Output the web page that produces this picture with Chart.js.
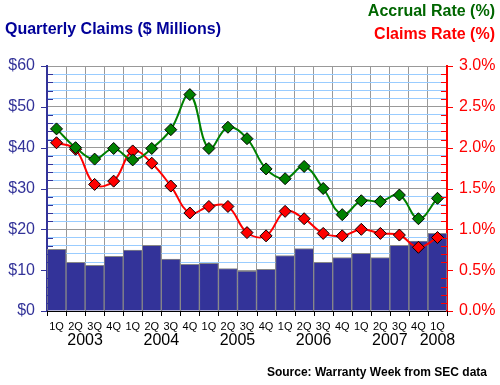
<!DOCTYPE html>
<html>
<head>
<meta charset="utf-8">
<script src="https://cdn.jsdelivr.net/npm/chart.js@4"></script>
<style>
  html, body { margin: 0; padding: 0; background: #fff; }
  #wrap { position: relative; width: 500px; height: 385px; }
</style>
</head>
<body>
<div id="wrap"><canvas id="claimsChart" width="500" height="385"></canvas></div>
<script>
var quarters = ['1Q','2Q','3Q','4Q','1Q','2Q','3Q','4Q','1Q','2Q','3Q','4Q','1Q','2Q','3Q','4Q','1Q','2Q','3Q','4Q','1Q'];
var years = ['2003','2004','2005','2006','2007','2008'];
var claims = [15.1, 11.9, 11.2, 13.4, 14.9, 16.1, 12.7, 11.4, 11.7, 10.4, 9.8, 10.2, 13.6, 15.3, 11.9, 13.1, 14.1, 13.1, 16.1, 17.1, 19.0];
var accrualRate = [2.23, 2.00, 1.86, 1.99, 1.85, 1.99, 2.22, 2.65, 1.99, 2.25, 2.11, 1.74, 1.62, 1.77, 1.50, 1.18, 1.35, 1.34, 1.42, 1.13, 1.38];
var claimsRate = [2.06, 1.98, 1.55, 1.59, 1.96, 1.81, 1.53, 1.20, 1.28, 1.28, 0.96, 0.92, 1.22, 1.13, 0.95, 0.92, 1.00, 0.95, 0.93, 0.78, 0.90];

var FONT = 'Arial, "Liberation Sans", sans-serif';

// axis tick marks, year row and header texts
var decorPlugin = {
  id: 'decor',
  afterDraw: function(chart) {
    var c = chart.ctx;
    var area = chart.chartArea;
    var yl = chart.scales.y;
    var yr = chart.scales.y1;
    var x = chart.scales.x;
    c.save();
    c.lineWidth = 1;

    // left axis ticks
    c.strokeStyle = '#333399';
    for (var v = 0; v <= 60; v += 2) {
      var py = Math.round(yl.getPixelForValue(v)) + 0.5;
      c.beginPath();
      if (v % 10 === 0) { c.moveTo(area.left - 6, py); c.lineTo(area.left, py); }
      else { c.moveTo(area.left, py); c.lineTo(area.left + 6, py); }
      c.stroke();
    }
    // right axis ticks
    c.strokeStyle = '#ff0000';
    for (var r = 0; r <= 30; r += 1) {
      var ry = Math.round(yr.getPixelForValue(r / 10)) + 0.5;
      c.beginPath();
      if (r % 5 === 0) { c.moveTo(area.right, ry); c.lineTo(area.right + 6, ry); }
      else { c.moveTo(area.right - 6, ry); c.lineTo(area.right, ry); }
      c.stroke();
    }
    // bottom ticks at category boundaries
    c.strokeStyle = '#000';
    var step = (area.right - area.left) / quarters.length;
    for (var i = 0; i <= quarters.length; i++) {
      var px = Math.round(area.left + step * i) + 0.5;
      c.beginPath();
      c.moveTo(px, area.bottom);
      c.lineTo(px, area.bottom + 5);
      c.stroke();
    }

    // year labels
    c.fillStyle = '#000';
    c.font = '16px ' + FONT;
    c.textAlign = 'center';
    c.textBaseline = 'middle';
    years.forEach(function(yr, k) {
      var first = k * 4;
      var last = Math.min(first + 3, quarters.length - 1);
      var cx = (x.getPixelForValue(first) + x.getPixelForValue(last)) / 2;
      c.fillText(yr, cx, 341);
    });

    // header
    c.font = 'bold 16px ' + FONT;
    c.textAlign = 'left';
    c.fillStyle = '#000099';
    c.fillText('Quarterly Claims ($ Millions)', 5, 30);
    c.textAlign = 'right';
    c.fillStyle = '#006600';
    c.fillText('Accrual Rate (%)', 495, 12);
    c.fillStyle = '#ff0000';
    c.fillText('Claims Rate (%)', 495, 35);

    c.font = 'bold 12px ' + FONT;
    c.fillStyle = '#000';
    c.fillText('Source: Warranty Week from SEC data', 487, 373);
    c.restore();
  }
};

var ctx = document.getElementById('claimsChart').getContext('2d');
new Chart(ctx, {
  type: 'bar',
  data: {
    labels: quarters,
    datasets: [{
      type: 'line',
      label: 'Accrual Rate (%)',
      data: accrualRate,
      yAxisID: 'y1',
      borderColor: '#008000',
      borderWidth: 2,
      tension: 0.4,
      pointStyle: 'rectRot',
      pointRadius: 6,
      pointBackgroundColor: '#008000',
      pointBorderColor: '#000',
      pointBorderWidth: 1,
      order: 0
    }, {
      type: 'line',
      label: 'Claims Rate (%)',
      data: claimsRate,
      yAxisID: 'y1',
      borderColor: '#ff0000',
      borderWidth: 2,
      tension: 0.4,
      pointStyle: 'rectRot',
      pointRadius: 6,
      pointBackgroundColor: '#ff0000',
      pointBorderColor: '#000',
      pointBorderWidth: 1,
      order: 1
    }, {
      label: 'Quarterly Claims',
      data: claims,
      yAxisID: 'y',
      backgroundColor: '#333399',
      borderColor: '#888888',
      borderWidth: 1,
      barPercentage: 1,
      categoryPercentage: 1,
      order: 2
    }]
  },
  options: {
    responsive: false,
    animation: false,
    layout: { padding: { top: 66, left: 0, right: 0, bottom: 0 } },
    plugins: { legend: { display: false }, tooltip: { enabled: false } },
    scales: {
      x: {
        offset: true,
        grid: { color: '#999999', offset: true, drawTicks: false },
        border: { color: '#000', width: 1 },
        ticks: { color: '#000', font: { size: 11, family: FONT }, padding: 9, maxRotation: 0, autoSkip: false },
        afterFit: function(s) { s.height = 74; }
      },
      y: {
        position: 'left',
        min: 0,
        max: 60,
        grid: {
          drawTicks: false,
          color: function(c) { return c.tick.value % 10 === 0 ? '#999999' : '#99ccff'; }
        },
        border: { color: '#333399', width: 2 },
        ticks: {
          stepSize: 2,
          autoSkip: false,
          padding: 12,
          color: '#333399',
          font: { size: 16, family: FONT },
          callback: function(v) { return v % 10 === 0 ? '$' + v : ''; }
        },
        afterFit: function(s) { s.width = 47; }
      },
      y1: {
        position: 'right',
        min: 0,
        max: 3,
        grid: { display: false, drawTicks: false },
        border: { color: '#ff0000', width: 2 },
        ticks: {
          stepSize: 0.5,
          padding: 12,
          color: '#ff0000',
          font: { size: 16, family: FONT },
          callback: function(v) { return v.toFixed(1) + '%'; }
        },
        afterFit: function(s) { s.width = 53; }
      }
    }
  },
  plugins: [decorPlugin]
});
</script>
</body>
</html>
